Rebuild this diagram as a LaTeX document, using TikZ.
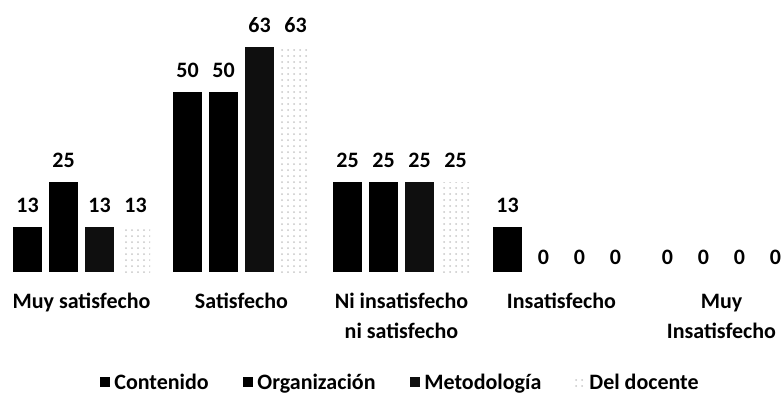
\documentclass[tikz,border=0pt]{standalone}
\usepackage{fontspec}
\setmainfont{Carlito}
\usetikzlibrary{backgrounds}
\usetikzlibrary{patterns}
\newcommand{\chbrw}{29}
\newcommand{\chgrp}{160}
\newcommand{\chstp}{36}
\newcommand{\chxa}{13}
\newcommand{\chbase}{272}
\newcommand{\chunit}{3.6}
\newcommand{\chlbl}{22}
\newcommand{\chzlbl}{15}
\newcommand{\chcol}[4]{
  \fill[#4] ({\chxa + \chgrp*#1 + \chstp*#2}, \chbase)
    rectangle ++(\chbrw, {-\chunit*#3});}
\newcommand{\chval}[5]{
  \node (#1) at ({\chxa + \chgrp*#2 + \chstp*#3 + \chbrw/2},
    {\chbase - \chunit*#4 - \chlbl}) {#5};}
\newcommand{\chzero}[3]{
  \node (#1) at ({\chxa + \chgrp*#2 + \chstp*#3 + \chbrw/2},
    {\chbase - \chzlbl}) {0};}

\begin{document}
\begin{tikzpicture}[x=0.5pt,y=-0.5pt,
    font=\fontsize{11}{15}\selectfont\bfseries,
    contenido/.style={fill=black},
    organizacion/.style={fill=black},
    metodologia/.style={fill=black!94},
    docente/.style={pattern=dots,pattern color=black!22},
    catlbl/.style={align=center,anchor=base,inner sep=0pt},
    lgdlbl/.style={anchor=base west,inner sep=0pt}]
    \useasboundingbox (0,0) rectangle (782,398);

    \chval{vaa}{0}{0}{12.5}{13}
    \chval{vab}{0}{1}{25}{25}
    \chval{vac}{0}{2}{12.5}{13}
    \chval{vad}{0}{3}{12.5}{13}
    \chval{vba}{1}{0}{50}{50}
    \chval{vbb}{1}{1}{50}{50}
    \chval{vbc}{1}{2}{62.5}{63}
    \chval{vbd}{1}{3}{62.5}{63}
    \chval{vca}{2}{0}{25}{25}
    \chval{vcb}{2}{1}{25}{25}
    \chval{vcc}{2}{2}{25}{25}
    \chval{vcd}{2}{3}{25}{25}
    \chval{vda}{3}{0}{12.5}{13}
    \chzero{vdb}{3}{1}
    \chzero{vdc}{3}{2}
    \chzero{vdd}{3}{3}
    \chzero{vea}{4}{0}
    \chzero{veb}{4}{1}
    \chzero{vec}{4}{2}
    \chzero{ved}{4}{3}

    \node[catlbl] (cta) at (81.5, 308) {Muy satisfecho};
    \node[catlbl] (ctb) at (241.5, 308) {Satisfecho};
    \node[catlbl] (ctc) at (401.5, 338) {Ni insatisfecho\\ni satisfecho};
    \node[catlbl] (ctd) at (561.5, 308) {Insatisfecho};
    \node[catlbl] (cte) at (721.5, 338) {Muy\\Insatisfecho};

    \fill[contenido] (100,377) rectangle ++(10,10);
    \node[lgdlbl] (lga) at (114,389) {Contenido};
    \fill[organizacion] (243,377) rectangle ++(10,10);
    \node[lgdlbl] (lgb) at (257,389) {Organización};
    \fill[metodologia] (410,377) rectangle ++(10,10);
    \node[lgdlbl] (lgc) at (424,389) {Metodología};
    \fill[docente] (575,377) rectangle ++(10,10);
    \node[lgdlbl] (lgd) at (589,389) {Del docente};

    \begin{scope}[on background layer]
      \chcol{0}{0}{12.5}{contenido}
      \chcol{0}{1}{25}{organizacion}
      \chcol{0}{2}{12.5}{metodologia}
      \chcol{0}{3}{12.5}{docente}
      \chcol{1}{0}{50}{contenido}
      \chcol{1}{1}{50}{organizacion}
      \chcol{1}{2}{62.5}{metodologia}
      \chcol{1}{3}{62.5}{docente}
      \chcol{2}{0}{25}{contenido}
      \chcol{2}{1}{25}{organizacion}
      \chcol{2}{2}{25}{metodologia}
      \chcol{2}{3}{25}{docente}
      \chcol{3}{0}{12.5}{contenido}
    \end{scope}
  \end{tikzpicture}
\end{document}
